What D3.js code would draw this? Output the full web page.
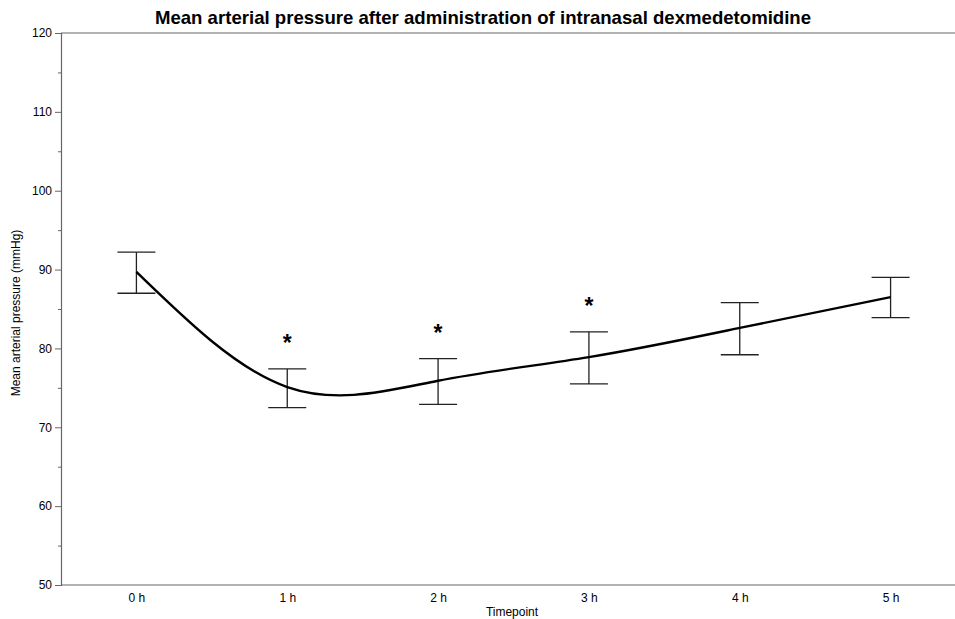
<!DOCTYPE html>
<html><head><meta charset="utf-8">
<script src="https://cdn.jsdelivr.net/npm/d3@7"></script>
<style>body{margin:0;background:#fff}svg{display:block;font-family:"Liberation Sans",Arial,Helvetica,sans-serif}</style>
</head><body><svg id="c" width="955" height="619"></svg>
<script>
const categories = ["0 h","1 h","2 h","3 h","4 h","5 h"];
const means = [89.7, 75.1, 75.9, 78.9, 82.6, 86.5];
const upper = [92.2, 77.4, 78.7, 82.1, 85.8, 89.0];
const lower = [87.0, 72.5, 72.9, 75.5, 79.2, 83.9];
const significant = [false, true, true, true, false, false];
const yTicks = [50,60,70,80,90,100,110,120];
const yMinorTicks = [55,65,75,85,95,105,115];

const svg = d3.select("#c");
const mLeft = 61, mTop = 33, mBottom = 585, mRight = 966;
const x = d3.scalePoint().domain(categories).range([mLeft, mRight]).padding(0.5);
const y = d3.scaleLinear().domain([50,120]).range([mBottom, mTop]);
const axisColor = "#666";

// title
svg.append("text").attr("x", 483).attr("y", 24).attr("text-anchor","middle")
  .attr("font-size", 18.6).attr("font-weight","bold").text("Mean arterial pressure after administration of intranasal dexmedetomidine");

// top frame line
svg.append("line").attr("x1", mLeft).attr("x2", 955).attr("y1", y(120)).attr("y2", y(120)).attr("stroke", axisColor).attr("stroke-width",1.2);

// y axis
const ya = svg.append("g").attr("transform",`translate(${mLeft},0)`)
  .call(d3.axisLeft(y).tickValues(yTicks).tickSize(6).tickPadding(3));
ya.select(".domain").attr("stroke", axisColor).attr("stroke-width",1.2);
ya.selectAll(".tick line").attr("stroke", axisColor);
ya.selectAll(".tick text").attr("font-size", 12).attr("fill","#000").attr("font-family","Liberation Sans, Arial, sans-serif");
const ym = svg.append("g").attr("transform",`translate(${mLeft},0)`)
  .call(d3.axisLeft(y).tickValues(yMinorTicks).tickSize(3).tickFormat(""));
ym.select(".domain").remove();
ym.selectAll(".tick line").attr("stroke", axisColor);

// x axis
const xa = svg.append("g").attr("transform",`translate(0,${mBottom})`)
  .call(d3.axisBottom(x).tickSize(0).tickPadding(8));
xa.select(".domain").attr("stroke", axisColor).attr("stroke-width",1.2).attr("d", `M${mLeft},0H955`);
xa.selectAll(".tick text").attr("font-size", 12).attr("fill","#000").attr("font-family","Liberation Sans, Arial, sans-serif");

// axis labels
svg.append("text").attr("x", 512).attr("y", 616).attr("text-anchor","middle").attr("font-size",12).text("Timepoint");
svg.append("text").attr("transform",`translate(20,313) rotate(-90)`).attr("text-anchor","middle").attr("font-size",12).text("Mean arterial pressure (mmHg)");

// error bars
const capW = 19;
const eb = svg.append("g").attr("stroke","#222").attr("stroke-width",1.3);
categories.forEach((c,i)=>{
  const cx = x(c);
  eb.append("line").attr("x1",cx).attr("x2",cx).attr("y1",y(upper[i])).attr("y2",y(lower[i]));
  eb.append("line").attr("x1",cx-capW).attr("x2",cx+capW).attr("y1",y(upper[i])).attr("y2",y(upper[i]));
  eb.append("line").attr("x1",cx-capW).attr("x2",cx+capW).attr("y1",y(lower[i])).attr("y2",y(lower[i]));
});

// mean line
const line = d3.line().x((d,i)=>x(categories[i])).y(d=>y(d)).curve(d3.curveNatural);
svg.append("path").datum(means).attr("d", line).attr("fill","none").attr("stroke","#000").attr("stroke-width",2.4);

// significance stars
categories.forEach((c,i)=>{
  if(significant[i]) svg.append("text").attr("x", x(c)).attr("y", y(upper[i]) - 18).attr("text-anchor","middle")
    .attr("font-size", 23).attr("font-weight","bold").text("*");
});
</script></body></html>
